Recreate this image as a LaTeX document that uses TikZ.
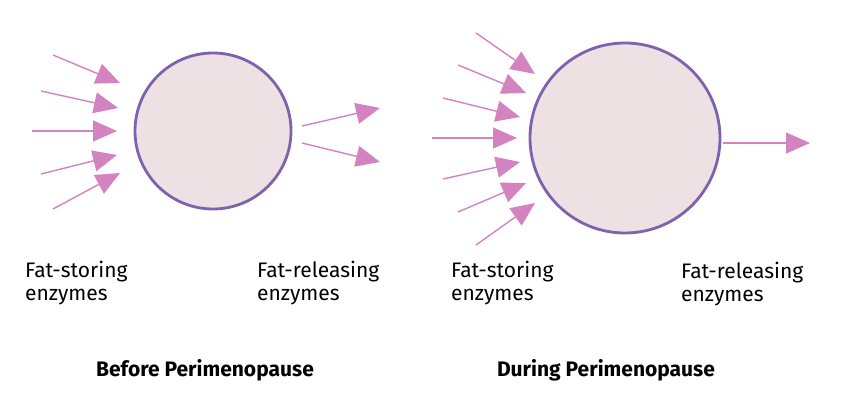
\documentclass[tikz,border=0pt]{standalone}
\usepackage{fontspec}
\setmainfont{Fira Sans}
\usetikzlibrary{arrows.meta}

\definecolor{cellfill}{HTML}{EDE1E3}
\definecolor{celldraw}{HTML}{7E62AE}
\definecolor{enzpink}{HTML}{D383C0}

\begin{document}
\begin{tikzpicture}[
  x=1pt, y=-1pt,
  cell/.style={circle, draw=celldraw, line width=2.8pt, fill=cellfill, inner sep=0pt},
  enz/.style={-{Triangle[length=24pt, width=21pt]}, draw=enzpink, fill=enzpink, line width=1.4pt},
  label/.style={anchor=north west, align=left, inner sep=0pt, font=\fontsize{21}{22.5}\selectfont},
  title/.style={anchor=base, inner sep=0pt, font=\fontsize{21}{22.5}\selectfont\bfseries}
]
\useasboundingbox (0,0) rectangle (844,403);

% cells
\node[cell, minimum size=156pt] (cellA) at (213,131) {};
\node[cell, minimum size=190pt] (cellB) at (625,138) {};

% before: incoming and outgoing enzymes
\foreach \i/\tx/\ty/\hx/\hy in {1/53/55/120/83, 2/41/91/118/108, 3/32/131/117/131,
                                 4/41/174/117/155, 5/53/209/120/173,
                                 6/302/126/380/108, 7/302/143/380/162} {
  \coordinate (a\i) at (\tx,\ty);
  \coordinate (ah\i) at (\hx,\hy);
  \draw[enz] (a\i) -- (ah\i);
}

% during: incoming and outgoing enzymes
\foreach \i/\tx/\ty/\hx/\hy in {1/476/33/535/74, 2/458/65/526/93, 3/443/98/520/117,
                                 4/432/138/517/138, 5/443/179/520/162,
                                 6/458/212/526/183, 7/476/245/535/203,
                                 8/723/143/810/143} {
  \coordinate (b\i) at (\tx,\ty);
  \coordinate (bh\i) at (\hx,\hy);
  \draw[enz] (b\i) -- (bh\i);
}

% labels
\node[label] (storeA) at (25,261) {Fat-storing\\enzymes};
\node[label] (releaseA) at (257,261) {Fat-releasing\\enzymes};
\node[label] (storeB) at (451,261) {Fat-storing\\enzymes};
\node[label] (releaseB) at (681,262) {Fat-releasing\\enzymes};

\node[title] (before) at (205,377) {Before Perimenopause};
\node[title] (during) at (606,377) {During Perimenopause};
\end{tikzpicture}
\end{document}
